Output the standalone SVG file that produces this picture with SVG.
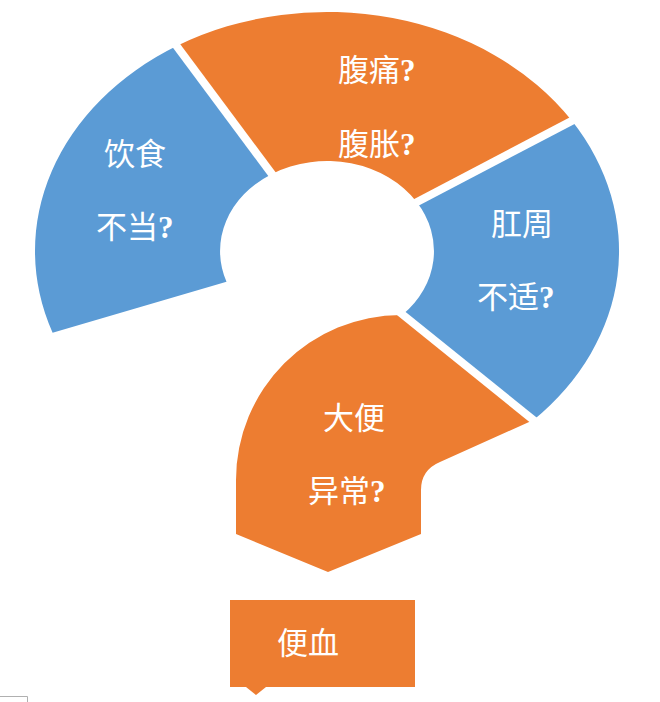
<svg xmlns="http://www.w3.org/2000/svg" width="660" height="702" viewBox="0 0 660 702">
  <style>
    .blue { fill: #5B9BD5; }
    .orange { fill: #ED7D31; }
    .lbl { fill: #ffffff; font-family: "Liberation Serif", "Noto Sans CJK SC", serif; font-size: 31px; }
    .q { font-weight: bold; }
    .sep { stroke: #ffffff; stroke-width: 8; fill: none; }
  </style>
  <rect width="660" height="702" fill="#ffffff"/>

  <g id="node-diet">
    <path class="blue" d="M52.6,332.7 A292,239 0 0 1 176.6,46.1 L271.9,173.9 A107,90 0 0 0 226.5,281.8 Z"/>
    <text class="lbl" x="104" y="165">饮食</text>
    <text class="lbl" x="96" y="238">不当<tspan class="q">?</tspan></text>
  </g>

  <g id="node-abdomen">
    <path class="orange" d="M176.6,46.1 A292,239 0 0 1 571.9,120.8 L416.7,202 A107,90 0 0 0 271.9,173.9 Z"/>
    <text class="lbl" x="338" y="81">腹痛<tspan class="q">?</tspan></text>
    <text class="lbl" x="338" y="155">腹胀<tspan class="q">?</tspan></text>
  </g>

  <g id="node-anal">
    <path class="blue" d="M571.9,120.8 A292,239 0 0 1 533.5,420 L402.7,314.6 A107,90 0 0 0 416.7,202 Z"/>
    <text class="lbl" x="491" y="235">肛周</text>
    <text class="lbl" x="477" y="308">不适<tspan class="q">?</tspan></text>
  </g>

  <g id="node-stool">
    <path class="orange" d="M402.7,314.6 L533.5,420 L440,462 Q421,470 421,490 L421,534 L328,572 L236,534 L236,480 A165,165 0 0 1 401,315 Z"/>
    <text class="lbl" x="323" y="429">大便</text>
    <text class="lbl" x="308" y="502">异常<tspan class="q">?</tspan></text>
  </g>

  <g id="separators">
    <line class="sep" x1="283" y1="189" x2="167.6" y2="33.8"/>
    <line class="sep" x1="398" y1="212" x2="586.6" y2="113.1"/>
    <line class="sep" x1="387" y1="302" x2="545.9" y2="430.1"/>
  </g>

  <g id="node-blood">
    <path class="orange" d="M230,600 H415 V687 H266 L256,695 L246,687 H230 Z"/>
    <text class="lbl" x="277" y="654">便血</text>
  </g>

  <g id="connectors"></g>

  <path d="M0,696.5 H27.5 V702" fill="none" stroke="#b0b0b0" stroke-width="1"/>
</svg>
